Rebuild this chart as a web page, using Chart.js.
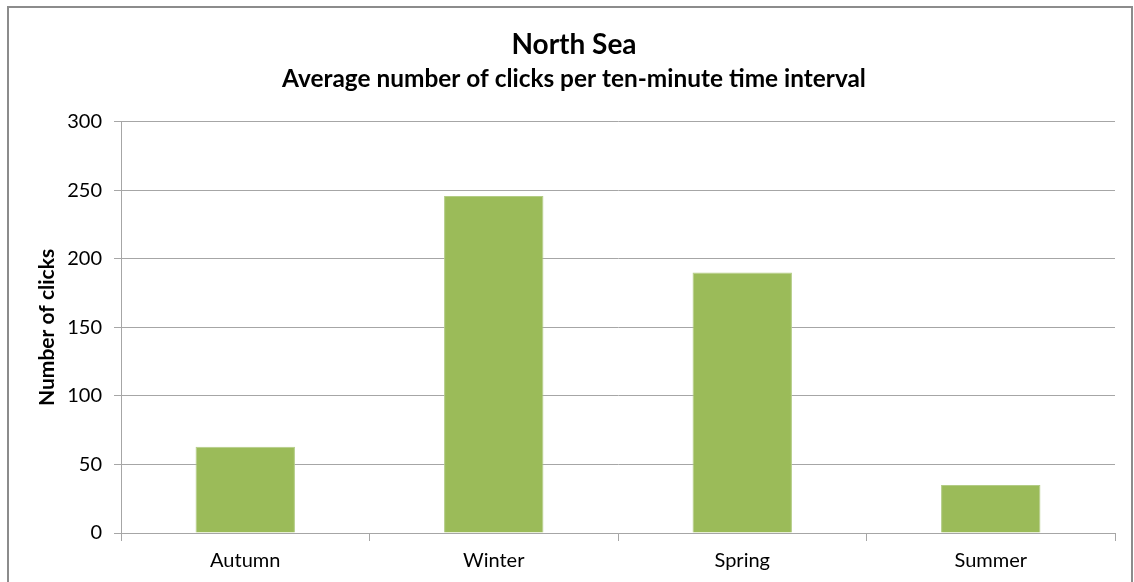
<!DOCTYPE html>
<html>
<head>
<meta charset="utf-8">
<script src="https://cdn.jsdelivr.net/npm/chart.js@4.4.1/dist/chart.umd.min.js"></script>
<style>
  html, body { margin: 0; padding: 0; background: #fff; overflow: hidden; }
  #wrap { position: absolute; left: 0; top: 0; width: 1134px; height: 582px; }
  #frame {
    position: absolute; left: 7px; top: 6px; width: 1122px; height: 620px;
    border: 2px solid #8c8c8c; pointer-events: none;
  }
</style>
</head>
<body>
<div id="wrap">
  <canvas id="chart" width="1134" height="582"></canvas>
  <div id="frame"></div>
</div>
<script>
/* ── data ── */
const seasons = ['Autumn', 'Winter', 'Spring', 'Summer'];
const clicks  = [63, 246, 190, 35];
const yTicks  = [0, 50, 100, 150, 200, 250, 300];

const BAR   = '#9bbb59';
const GRID  = '#a6a6a6';
const FONT  = 'Lato, "Open Sans", sans-serif';

Chart.defaults.font.family = FONT;
Chart.defaults.color = '#000';

new Chart(document.getElementById('chart'), {
  type: 'bar',
  data: {
    labels: seasons,
    datasets: [{
      data: clicks,
      backgroundColor: BAR,
      borderColor: '#b3cc85',
      borderWidth: 1,
      categoryPercentage: 1,
      barPercentage: 0.4,
    }]
  },
  options: {
    responsive: false,
    animation: false,
    layout: { padding: { left: 33, right: 19, top: 0, bottom: 0 } },
    plugins: {
      legend: { display: false },
      tooltip: { enabled: false },
      title: {
        display: true,
        text: 'North Sea',
        font: { size: 28, weight: 'bold', family: FONT },
        color: '#000',
        padding: { top: 28, bottom: 3 }
      },
      subtitle: {
        display: true,
        text: 'Average number of clicks per ten-minute time interval',
        font: { size: 24.4, weight: 'bold', family: FONT },
        color: '#000',
        padding: { top: 0, bottom: 28 }
      }
    },
    scales: {
      x: {
        offset: true,
        grid: { display: true, drawOnChartArea: false, offset: true, color: GRID, tickLength: 8 },
        border: { display: true, color: GRID },
        ticks: { font: { size: 20 }, color: '#000', padding: 8 },
        afterFit: s => { s.height = 49; }
      },
      y: {
        min: 0, max: 300,
        afterBuildTicks: s => { s.ticks = yTicks.map(v => ({ value: v })); },
        grid: { color: GRID, tickLength: 7 },
        border: { display: true, color: GRID },
        ticks: { font: { size: 20 }, color: '#000', padding: 12 },
        title: {
          display: true,
          text: 'Number of clicks',
          font: { size: 21, weight: 'bold' },
          color: '#000',
          padding: { top: 2, bottom: 0 }
        },
        afterFit: s => { s.width = 88; }
      }
    }
  }
});
</script>
</body>
</html>
